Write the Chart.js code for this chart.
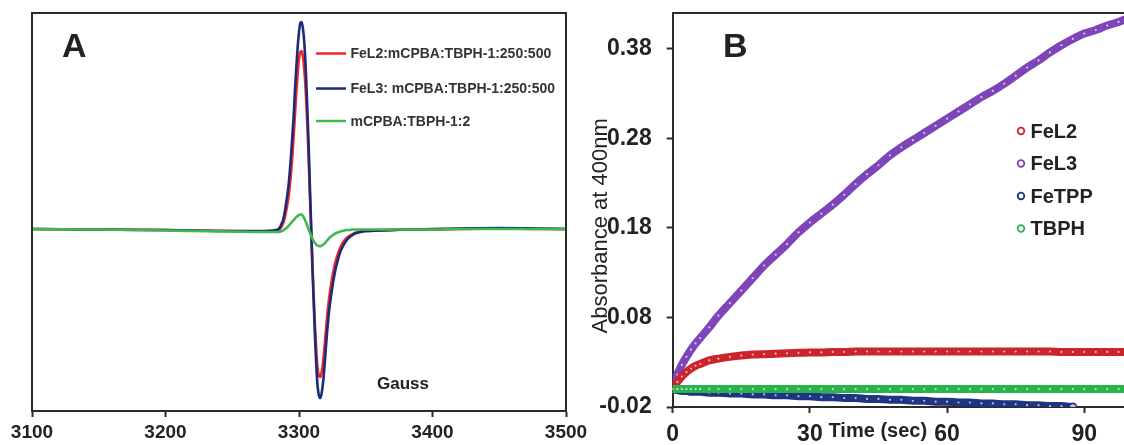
<!DOCTYPE html>
<html>
<head>
<meta charset="utf-8">
<script src="https://cdn.jsdelivr.net/npm/chart.js@4.4.1/dist/chart.umd.min.js"></script>
<style>
  html, body { margin: 0; padding: 0; background: #fff; overflow: hidden; width: 1124px; height: 445px; }
  #epr { position: absolute; left: 0; top: 0; }
  #kin { position: absolute; left: 560px; top: 0; }
</style>
</head>
<body>
<canvas id="epr" width="600" height="445"></canvas>
<canvas id="kin" width="600" height="445"></canvas>
<script>
// ---- panel A: EPR spectra (field in Gauss, intensity in arbitrary units) ----
var eprField = [3100, 3150, 3200, 3250, 3270, 3280,
  3284, 3285, 3286, 3287, 3288, 3289, 3290, 3291, 3292, 3293, 3294, 3295, 3296, 3297, 3298, 3299,
  3300, 3301, 3302, 3303, 3304, 3305, 3306, 3307, 3308, 3309, 3310, 3311, 3312, 3313, 3314, 3315,
  3316, 3317, 3318, 3319, 3320, 3321, 3322, 3323, 3324, 3325, 3326, 3327, 3328, 3329, 3330, 3331, 3332,
  3334, 3336, 3338, 3340, 3343, 3346, 3350, 3360, 3380, 3400, 3420, 3450, 3480, 3500];
var eprFeL2 = [0.5, 0, -0.5, -1.5, -2, -1.5,
  -1, -0.5, 1, 3, 6, 10, 16, 23, 31, 42, 56, 73, 93, 115, 137, 156,
  170, 177, 178, 172, 159, 139, 111, 78, 40, 4, -33, -66, -97, -122, -139, -146,
  -147, -142, -133, -119, -103, -88, -75, -64, -55, -47, -40, -34, -29, -25, -21, -18, -15,
  -11, -8, -6, -4.5, -3, -2, -1.5, -1, 0, 0, 0.5, 1, 0.5, 0.5];
var eprFeL3 = [0.5, 0, -0.5, -1.5, -1.5, -1,
  0, 1, 3, 6, 9, 15, 23, 32, 42, 56, 73, 93, 113, 140, 162, 182,
  197, 206, 207, 200, 186, 162, 130, 93, 50, 8, -35, -72, -108, -137, -157, -166,
  -168, -163, -153, -138, -120, -103, -88, -76, -66, -57, -49, -42, -36, -31, -26, -22, -19,
  -14, -10, -7.5, -5.5, -3.5, -2.5, -1.5, -1, 0, 0.5, 1, 1.5, 1, 0.5];
var eprBlank = [0.5, 0, -1, -2, -2.5, -2.5,
  -2.5, -2.5, -2, -1.5, -1, 0, 1, 2, 3.5, 5, 6.5, 8, 9.5, 11, 12.5, 13.5,
  14.5, 15, 15, 13.5, 11, 8, 4.5, 1, -2.5, -6, -9, -11.5, -13.5, -15, -16, -16.5,
  -16.5, -16, -15, -14, -12.5, -11, -9.5, -8, -7, -6, -5, -4, -3.5, -3, -2.5, -2, -1.5,
  -1, -0.5, -0.5, 0, 0, 0, 0, 0, 0, 0, 0.5, 0.5, 0.5, 0.5];
var eprLabels = ['FeL2:mCPBA:TBPH-1:250:500', 'FeL3: mCPBA:TBPH-1:250:500', 'mCPBA:TBPH-1:2'];
var eprTicks = [3100, 3200, 3300, 3400, 3500];

// ---- panel B: absorbance at 400 nm vs time (s) ----
var kinTime = [0, 1, 2, 3, 4, 5, 6, 8, 10, 12.5, 15, 17.5, 20, 22.5, 25, 27.5, 30, 32.5, 35, 37.5,
  40, 42.5, 45, 47.5, 50, 52.5, 55, 57.5, 60, 62.5, 65, 67.5, 70, 72.5, 75, 77.5, 80, 82.5, 85, 87.5,
  90, 92.5, 95, 97.5, 100];
var kinFeL2 = [0, 0.008, 0.014, 0.019, 0.023, 0.026, 0.028, 0.032, 0.034, 0.036, 0.0375, 0.0385, 0.039, 0.0395, 0.040, 0.0405, 0.041, 0.041, 0.0415, 0.0415,
  0.042, 0.042, 0.042, 0.042, 0.042, 0.042, 0.042, 0.042, 0.042, 0.042, 0.042, 0.042, 0.042, 0.042, 0.042, 0.042, 0.042, 0.042, 0.0415, 0.0415,
  0.0415, 0.0415, 0.0415, 0.0415, 0.0415];
var kinFeL3 = [0, 0.016, 0.027, 0.036, 0.044, 0.051, 0.057, 0.069, 0.082, 0.096, 0.110, 0.124, 0.138, 0.150, 0.162, 0.175, 0.186, 0.196, 0.206, 0.217,
  0.229, 0.240, 0.250, 0.261, 0.270, 0.278, 0.286, 0.294, 0.302, 0.310, 0.318, 0.326, 0.333, 0.341, 0.350, 0.359, 0.367, 0.376, 0.384, 0.391,
  0.397, 0.401, 0.406, 0.410, 0.415];
var kinFeTPP = [0, -0.001, -0.002, -0.002, -0.003, -0.003, -0.003, -0.004, -0.004, -0.005, -0.005, -0.006, -0.006, -0.007, -0.007, -0.008, -0.008, -0.009, -0.009, -0.010,
  -0.010, -0.011, -0.011, -0.012, -0.012, -0.013, -0.013, -0.014, -0.014, -0.015, -0.015, -0.016, -0.016, -0.017, -0.017, -0.018, -0.018, -0.019, -0.019, -0.020,
  null, null, null, null, null];
var kinTBPH = [0, 0, 0, 0, 0, 0, 0, 0, 0, 0, 0, 0, 0, 0, 0, 0, 0, 0, 0, 0,
  0, 0, 0, 0, 0, 0, 0, 0, 0, 0, 0, 0, 0, 0, 0, 0, 0, 0, 0, 0,
  0, 0, 0, 0, 0];
var kinLabels = ['FeL2', 'FeL3', 'FeTPP', 'TBPH'];
var kinXTicks = [0, 30, 60, 90];
var kinYTicks = [-0.02, 0.08, 0.18, 0.28, 0.38];

Chart.defaults.font.family = "'Liberation Sans', Arial, sans-serif";
Chart.defaults.color = '#222';
var ink = '#2b2b2b';

function pairs(xs, ys) {
  return xs.map(function (x, i) { return { x: x, y: ys[i] }; });
}

// box, panel letter, legend and axis label for panel A
var eprDecor = {
  id: 'eprDecor',
  afterDraw: function (chart) {
    var ctx = chart.ctx, a = chart.chartArea;
    ctx.save();
    ctx.strokeStyle = ink;
    ctx.lineWidth = 2;
    ctx.strokeRect(a.left, a.top, a.right - a.left, a.bottom - a.top);

    ctx.fillStyle = '#222';
    ctx.font = "bold 34px 'Liberation Sans', Arial";
    ctx.textBaseline = 'alphabetic';
    ctx.fillText('A', 62, 57);

    var rows = [53.5, 88.5, 121];
    ctx.font = "bold 14px 'Liberation Sans', Arial";
    ctx.textBaseline = 'middle';
    chart.data.datasets.forEach(function (ds, i) {
      ctx.strokeStyle = ds.borderColor;
      ctx.lineWidth = 2.5;
      ctx.beginPath();
      ctx.moveTo(316, rows[i]);
      ctx.lineTo(346, rows[i]);
      ctx.stroke();
      ctx.fillStyle = '#333';
      ctx.fillText(ds.label, 350.5, rows[i] + 1);
    });

    ctx.fillStyle = '#222';
    ctx.font = "bold 17px 'Liberation Sans', Arial";
    ctx.fillText('Gauss', 377, 384);
    ctx.restore();
  }
};

new Chart(document.getElementById('epr').getContext('2d'), {
  type: 'line',
  data: {
    datasets: [
      { label: eprLabels[0], data: pairs(eprField, eprFeL2), borderColor: '#f2262b', order: 3 },
      { label: eprLabels[1], data: pairs(eprField, eprFeL3), borderColor: '#1d2a78', order: 2 },
      { label: eprLabels[2], data: pairs(eprField, eprBlank), borderColor: '#3dba4e', order: 1 }
    ]
  },
  options: {
    responsive: false,
    animation: false,
    devicePixelRatio: 1,
    layout: { padding: { left: 32, right: 34, top: 13, bottom: 0 } },
    elements: {
      point: { radius: 0 },
      line: { borderWidth: 2.6, cubicInterpolationMode: 'monotone', fill: false }
    },
    plugins: { legend: { display: false }, tooltip: { enabled: false } },
    scales: {
      x: {
        type: 'linear', min: 3100, max: 3500,
        afterBuildTicks: function (s) { s.ticks = eprTicks.map(function (v) { return { value: v }; }); },
        afterFit: function (s) { s.height = 34; },
        ticks: {
          font: { size: 19, weight: 'bold' }, color: '#222', padding: 4,
          maxRotation: 0, autoSkip: false,
          callback: function (v) { return String(v); }
        },
        grid: { drawOnChartArea: false, drawTicks: true, tickLength: 6, tickColor: ink, tickWidth: 2 },
        border: { color: ink, width: 2 }
      },
      y: { display: false, min: -181, max: 216 }
    }
  },
  plugins: [eprDecor]
});

// top border, panel letter, legend and axis titles for panel B
var kinDecor = {
  id: 'kinDecor',
  afterDraw: function (chart) {
    var ctx = chart.ctx, a = chart.chartArea;
    ctx.save();
    ctx.strokeStyle = ink;
    ctx.lineWidth = 2;
    ctx.beginPath();
    ctx.moveTo(a.left, a.top);
    ctx.lineTo(a.right, a.top);
    ctx.stroke();

    ctx.fillStyle = '#222';
    ctx.font = "bold 34px 'Liberation Sans', Arial";
    ctx.textBaseline = 'alphabetic';
    ctx.fillText('B', 163, 57);

    var rows = [131, 163.5, 196, 228.5];
    ctx.font = "bold 20px 'Liberation Sans', Arial";
    ctx.textBaseline = 'middle';
    chart.data.datasets.forEach(function (ds, i) {
      ctx.strokeStyle = ds.borderColor;
      ctx.lineWidth = 1.8;
      ctx.beginPath();
      ctx.arc(461, rows[i], 3.3, 0, Math.PI * 2);
      ctx.stroke();
      ctx.fillStyle = '#222';
      ctx.fillText(ds.label, 470.5, rows[i] + 1);
    });

    ctx.fillStyle = '#222';
    ctx.font = "bold 20px 'Liberation Sans', Arial";
    ctx.fillText('Time (sec)', 268.5, 431);

    ctx.font = "22px 'Liberation Sans', Arial";
    ctx.textBaseline = 'alphabetic';
    ctx.translate(46.5, 333.5);
    ctx.rotate(-Math.PI / 2);
    ctx.fillText('Absorbance at 400nm', 0, 0);
    ctx.restore();
  }
};

function band(label, ys, color, order) {
  // last recorded point is shown as an open circle
  var last = -1;
  ys.forEach(function (v, i) { if (v !== null) last = i; });
  return {
    label: label,
    data: pairs(kinTime, ys),
    borderColor: color,
    backgroundColor: color,
    showLine: true,
    borderWidth: 8,
    borderCapStyle: 'round',
    borderJoinStyle: 'round',
    cubicInterpolationMode: 'monotone',
    pointRadius: function (c) { return c.dataIndex === last && last < ys.length - 1 ? 3.6 : 1.1; },
    pointBorderWidth: function (c) { return c.dataIndex === last && last < ys.length - 1 ? 1.6 : 0; },
    pointBorderColor: color,
    pointBackgroundColor: 'rgba(255,255,255,0.7)',
    spanGaps: false,
    order: order
  };
}

new Chart(document.getElementById('kin').getContext('2d'), {
  type: 'scatter',
  data: {
    datasets: [
      band(kinLabels[0], kinFeL2, '#cc242b', 2),
      band(kinLabels[1], kinFeL3, '#7d45b8', 3),
      band(kinLabels[2], kinFeTPP, '#1f3482', 4),
      band(kinLabels[3], kinTBPH, '#28b34b', 1)
    ]
  },
  options: {
    responsive: false,
    animation: false,
    devicePixelRatio: 1,
    layout: { padding: { left: 0, right: 30, top: 13, bottom: 0 } },
    plugins: { legend: { display: false }, tooltip: { enabled: false } },
    scales: {
      x: {
        type: 'linear', min: 0, max: 100,
        afterBuildTicks: function (s) { s.ticks = kinXTicks.map(function (v) { return { value: v }; }); },
        afterFit: function (s) { s.height = 38; s.paddingLeft = 0; s.paddingRight = 0; },
        ticks: {
          font: { size: 23, weight: 'bold' }, color: '#222', padding: 8,
          maxRotation: 0, autoSkip: false,
          callback: function (v) { return String(v); }
        },
        grid: { drawOnChartArea: false, drawTicks: true, tickLength: 6, tickColor: ink, tickWidth: 2 },
        border: { color: ink, width: 2 }
      },
      y: {
        min: -0.02, max: 0.42,
        afterBuildTicks: function (s) { s.ticks = kinYTicks.map(function (v) { return { value: v }; }); },
        afterFit: function (s) { s.width = 112.7; s.paddingTop = 0; s.paddingBottom = 0; },
        ticks: {
          font: { size: 23, weight: 'bold' }, color: '#222', padding: 15, autoSkip: false,
          callback: function (v) { return v.toFixed(2); }
        },
        grid: { drawOnChartArea: false, drawTicks: true, tickLength: 6, tickColor: ink, tickWidth: 2 },
        border: { color: ink, width: 2 }
      }
    }
  },
  plugins: [kinDecor]
});
</script>
</body>
</html>
